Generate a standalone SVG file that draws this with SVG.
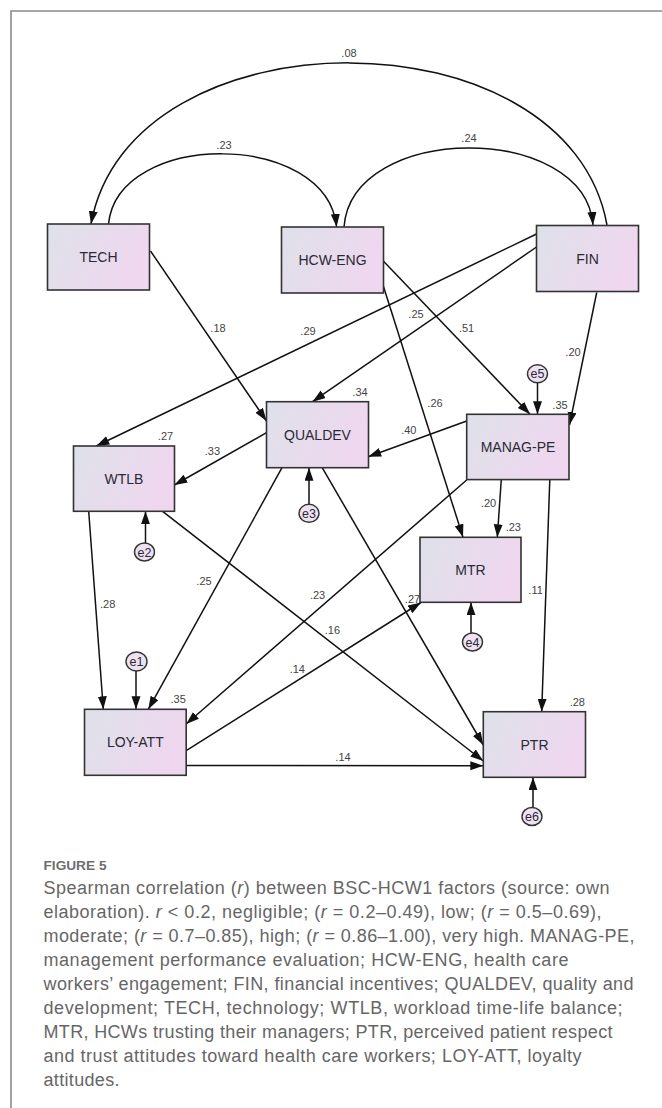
<svg xmlns="http://www.w3.org/2000/svg" width="662" height="1108" viewBox="0 0 662 1108">
<defs>
<linearGradient id="boxg" x1="0" y1="0" x2="1" y2="0.3">
<stop offset="0" stop-color="#dee1e9"/>
<stop offset="1" stop-color="#efd7ef"/>
</linearGradient>
<marker id="ah" markerWidth="14" markerHeight="10" refX="13" refY="4.5" orient="auto" markerUnits="userSpaceOnUse">
<path d="M0,0 L13,4.5 L0,9 Z" fill="#111"/>
</marker>
<style>
.box{fill:url(#boxg);stroke:#333;stroke-width:1.6}
.err{fill:#eee2f2;stroke:#333;stroke-width:1.4}
.bl{font-family:"Liberation Sans",Arial,sans-serif;font-size:14px;fill:#2a2a35;text-anchor:middle}
.el{font-family:"Liberation Sans",Arial,sans-serif;font-size:12.5px;fill:#2a2a35;text-anchor:middle}
.lb{font-family:"Liberation Sans",Arial,sans-serif;font-size:11px;fill:#444;text-anchor:middle}
.c{fill:none;stroke:#111;stroke-width:1.5;marker-end:url(#ah)}
.cap{font-family:"Liberation Sans",Arial,sans-serif;font-size:18px;fill:#666}
.fig{font-family:"Liberation Sans",Arial,sans-serif;font-size:13px;font-weight:bold;fill:#6e6e6e}
</style>
</defs>
<rect width="662" height="1108" fill="#fff"/>
<path d="M11,1108 L11,11 L662,11" fill="none" stroke="#8a8a8a" stroke-width="1.6"/>

<g id="connectors">
<path class="c" d="M607,225 C568,9 130,9 91,224"/>
<path class="c" d="M108.5,224 C118,130 327,130 336.6,227"/>
<path class="c" d="M344,227 C352,122 585,122 593,225"/>
<path class="c" d="M150.5,251 L266.5,421"/>
<path class="c" d="M383.3,261 L530,414.3"/>
<path class="c" d="M383,285 L463,537.3"/>
<path class="c" d="M536.5,234 L96.3,446"/>
<path class="c" d="M536.5,247 L312.5,401.7"/>
<path class="c" d="M596.7,292.5 L569.5,425"/>
<path class="c" d="M537.5,383 L537.5,414.3"/>
<path class="c" d="M466.7,421 L368.2,456.7"/>
<path class="c" d="M266.5,432.7 L174.4,485"/>
<path class="c" d="M309,504 L309,467.7"/>
<path class="c" d="M282,467.7 L148.3,709.3"/>
<path class="c" d="M322.2,467.7 L483.3,745"/>
<path class="c" d="M162.6,511.3 L483.3,761"/>
<path class="c" d="M88.7,511.3 L103.3,709.3"/>
<path class="c" d="M145.5,543 L145.5,511.3"/>
<path class="c" d="M136,671 L136,709.3"/>
<path class="c" d="M466.7,480 L186.2,724"/>
<path class="c" d="M501.3,479.3 L497.3,537.3"/>
<path class="c" d="M549.8,479.3 L541.7,711.7"/>
<path class="c" d="M186.2,750.7 L421,602.5"/>
<path class="c" d="M186.2,765.5 L483.3,765.7"/>
<path class="c" d="M471,633.5 L471,602.3"/>
<path class="c" d="M533,808 L533,777.3"/>
</g>

<g id="labels">
<text class="lb" x="349" y="57">.08</text>
<text class="lb" x="224" y="149">.23</text>
<text class="lb" x="469" y="142">.24</text>
<text class="lb" x="218" y="332">.18</text>
<text class="lb" x="308" y="334.7">.29</text>
<text class="lb" x="416" y="318">.25</text>
<text class="lb" x="466.6" y="332">.51</text>
<text class="lb" x="573" y="355.7">.20</text>
<text class="lb" x="360" y="396">.34</text>
<text class="lb" x="560" y="409">.35</text>
<text class="lb" x="165.5" y="439.7">.27</text>
<text class="lb" x="212.4" y="454.7">.33</text>
<text class="lb" x="408.8" y="434.3">.40</text>
<text class="lb" x="435" y="407.3">.26</text>
<text class="lb" x="488.6" y="506.7">.20</text>
<text class="lb" x="513.3" y="531.3">.23</text>
<text class="lb" x="204" y="584.7">.25</text>
<text class="lb" x="107.7" y="608">.28</text>
<text class="lb" x="317.6" y="598.7">.23</text>
<text class="lb" x="412.5" y="603">.27</text>
<text class="lb" x="535.6" y="593.8">.11</text>
<text class="lb" x="332.4" y="634.3">.16</text>
<text class="lb" x="297.3" y="673">.14</text>
<text class="lb" x="178.2" y="703">.35</text>
<text class="lb" x="577.3" y="705.7">.28</text>
<text class="lb" x="343" y="760.7">.14</text>
</g>

<g id="TECH"><rect class="box" x="47.5" y="224" width="102" height="66"/><text class="bl" x="98.5" y="262">TECH</text></g>
<g id="HCW-ENG"><rect class="box" x="281.5" y="227" width="102" height="66"/><text class="bl" x="332.5" y="265">HCW-ENG</text></g>
<g id="FIN"><rect class="box" x="536.5" y="225.5" width="102" height="66"/><text class="bl" x="587.5" y="263.5">FIN</text></g>
<g id="QUALDEV"><rect class="box" x="266.5" y="401.7" width="102" height="66"/><text class="bl" x="317.5" y="439.7">QUALDEV</text></g>
<g id="WTLB"><rect class="box" x="73.5" y="446" width="101" height="65.3"/><text class="bl" x="124" y="483.7">WTLB</text></g>
<g id="MANAG-PE"><rect class="box" x="466.7" y="414.3" width="102.3" height="65.3"/><text class="bl" x="518" y="452">MANAG-PE</text></g>
<g id="MTR"><rect class="box" x="420" y="537.3" width="101" height="65"/><text class="bl" x="470.5" y="575">MTR</text></g>
<g id="LOY-ATT"><rect class="box" x="84.5" y="709.3" width="101.7" height="66"/><text class="bl" x="135.3" y="747.3">LOY-ATT</text></g>
<g id="PTR"><rect class="box" x="483.3" y="711.7" width="102.2" height="65.6"/><text class="bl" x="534.5" y="749.5">PTR</text></g>

<g id="e5"><ellipse class="err" cx="537.5" cy="373.8" rx="10" ry="9"/><text class="el" x="537.5" y="378.3">e5</text></g>
<g id="e3"><ellipse class="err" cx="309" cy="513.3" rx="10" ry="9"/><text class="el" x="309" y="517.8">e3</text></g>
<g id="e2"><ellipse class="err" cx="144.5" cy="552" rx="10" ry="9"/><text class="el" x="144.5" y="556.5">e2</text></g>
<g id="e1"><ellipse class="err" cx="136.5" cy="661.5" rx="10.5" ry="9.5"/><text class="el" x="136.5" y="666">e1</text></g>
<g id="e4"><ellipse class="err" cx="472.5" cy="642" rx="10" ry="9"/><text class="el" x="472.5" y="646.5">e4</text></g>
<g id="e6"><ellipse class="err" cx="532" cy="816.5" rx="10" ry="9"/><text class="el" x="532" y="821">e6</text></g>

<g id="caption">
<text class="fig" x="43.5" y="870" textLength="63" lengthAdjust="spacingAndGlyphs">FIGURE 5</text>
<text class="cap" x="43.5" y="894.3" textLength="566" lengthAdjust="spacing">Spearman correlation (<tspan font-style="italic">r</tspan>) between BSC-HCW1 factors (source: own</text>
<text class="cap" x="43.5" y="918.2" textLength="558" lengthAdjust="spacing">elaboration). <tspan font-style="italic">r</tspan> &lt; 0.2, negligible; (<tspan font-style="italic">r</tspan> = 0.2–0.49), low; (<tspan font-style="italic">r</tspan> = 0.5–0.69),</text>
<text class="cap" x="43.5" y="942.1" textLength="591" lengthAdjust="spacing">moderate; (<tspan font-style="italic">r</tspan> = 0.7–0.85), high; (<tspan font-style="italic">r</tspan> = 0.86–1.00), very high. MANAG-PE,</text>
<text class="cap" x="43.5" y="966" textLength="525" lengthAdjust="spacing">management performance evaluation; HCW-ENG, health care</text>
<text class="cap" x="43.5" y="989.9" textLength="590" lengthAdjust="spacing">workers’ engagement; FIN, financial incentives; QUALDEV, quality and</text>
<text class="cap" x="43.5" y="1013.8" textLength="579" lengthAdjust="spacing">development; TECH, technology; WTLB, workload time-life balance;</text>
<text class="cap" x="43.5" y="1037.7" textLength="569" lengthAdjust="spacing">MTR, HCWs trusting their managers; PTR, perceived patient respect</text>
<text class="cap" x="43.5" y="1061.6" textLength="538" lengthAdjust="spacing">and trust attitudes toward health care workers; LOY-ATT, loyalty</text>
<text class="cap" x="43.5" y="1085.5" textLength="76" lengthAdjust="spacing">attitudes.</text>
</g>
</svg>
